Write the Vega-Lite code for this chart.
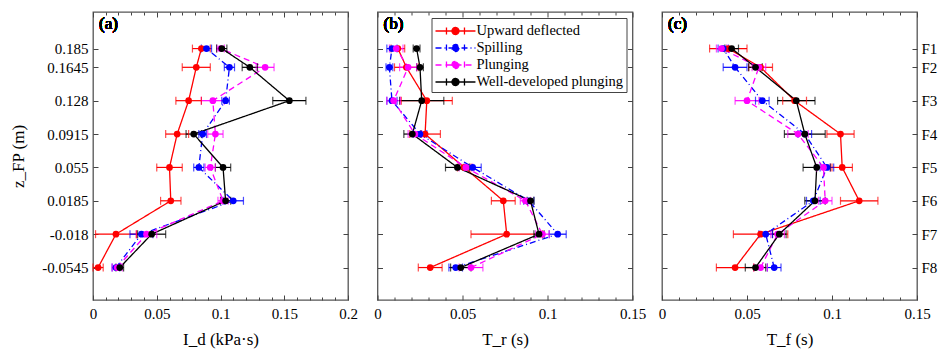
{
"$schema":"https://vega.github.io/schema/vega-lite/v6.json",
"background":"white",
"padding":{"left":9,"top":10,"right":2,"bottom":5},
"spacing":29.5,
"bounds":"flush",
"config":{"font":"Liberation Serif","view":{"stroke":"#555","strokeWidth":1.3},
"text":{"font":"Liberation Serif"},
"legend":{"labelFont":"Liberation Serif","titleFont":"Liberation Serif"},
"axis":{"labelFont":"Liberation Serif","titleFont":"Liberation Serif","domain":false,"grid":false,"labelFontSize":15,"titleFontSize":17,"titleFontWeight":"normal","labelColor":"black","titleColor":"black","tickColor":"#444","tickWidth":1,"labelFlush":false,"labelOverlap":false,"labelBound":false}},
"datasets":{"d":[
{"panel":"a","series":"Upward deflected","z":0.185,"v":0.085,"lo":0.078,"hi":0.092},
{"panel":"a","series":"Upward deflected","z":0.1645,"v":0.081,"lo":0.070,"hi":0.092},
{"panel":"a","series":"Upward deflected","z":0.128,"v":0.075,"lo":0.065,"hi":0.085},
{"panel":"a","series":"Upward deflected","z":0.0915,"v":0.066,"lo":0.057,"hi":0.075},
{"panel":"a","series":"Upward deflected","z":0.055,"v":0.060,"lo":0.050,"hi":0.070},
{"panel":"a","series":"Upward deflected","z":0.0185,"v":0.061,"lo":0.053,"hi":0.069},
{"panel":"a","series":"Upward deflected","z":-0.018,"v":0.018,"lo":0.002,"hi":0.034},
{"panel":"a","series":"Upward deflected","z":-0.0545,"v":0.004,"lo":0.000,"hi":0.008},
{"panel":"a","series":"Spilling","z":0.185,"v":0.089,"lo":0.085,"hi":0.093},
{"panel":"a","series":"Spilling","z":0.1645,"v":0.107,"lo":0.103,"hi":0.111},
{"panel":"a","series":"Spilling","z":0.128,"v":0.104,"lo":0.101,"hi":0.107},
{"panel":"a","series":"Spilling","z":0.0915,"v":0.086,"lo":0.083,"hi":0.089},
{"panel":"a","series":"Spilling","z":0.055,"v":0.083,"lo":0.079,"hi":0.087},
{"panel":"a","series":"Spilling","z":0.0185,"v":0.110,"lo":0.102,"hi":0.118},
{"panel":"a","series":"Spilling","z":-0.018,"v":0.038,"lo":0.029,"hi":0.047},
{"panel":"a","series":"Spilling","z":-0.0545,"v":0.018,"lo":0.015,"hi":0.021},
{"panel":"a","series":"Plunging","z":0.185,"v":0.100,"lo":0.097,"hi":0.103},
{"panel":"a","series":"Plunging","z":0.1645,"v":0.135,"lo":0.128,"hi":0.142},
{"panel":"a","series":"Plunging","z":0.128,"v":0.094,"lo":0.085,"hi":0.103},
{"panel":"a","series":"Plunging","z":0.0915,"v":0.096,"lo":0.090,"hi":0.102},
{"panel":"a","series":"Plunging","z":0.055,"v":0.092,"lo":0.088,"hi":0.096},
{"panel":"a","series":"Plunging","z":0.0185,"v":0.102,"lo":0.098,"hi":0.106},
{"panel":"a","series":"Plunging","z":-0.018,"v":0.042,"lo":0.034,"hi":0.050},
{"panel":"a","series":"Plunging","z":-0.0545,"v":0.019,"lo":0.015,"hi":0.023},
{"panel":"a","series":"Well-developed plunging","z":0.185,"v":0.101,"lo":0.097,"hi":0.105},
{"panel":"a","series":"Well-developed plunging","z":0.1645,"v":0.123,"lo":0.117,"hi":0.129},
{"panel":"a","series":"Well-developed plunging","z":0.128,"v":0.154,"lo":0.141,"hi":0.167},
{"panel":"a","series":"Well-developed plunging","z":0.0915,"v":0.079,"lo":0.073,"hi":0.085},
{"panel":"a","series":"Well-developed plunging","z":0.055,"v":0.102,"lo":0.096,"hi":0.108},
{"panel":"a","series":"Well-developed plunging","z":0.0185,"v":0.104,"lo":0.100,"hi":0.108},
{"panel":"a","series":"Well-developed plunging","z":-0.018,"v":0.046,"lo":0.035,"hi":0.057},
{"panel":"a","series":"Well-developed plunging","z":-0.0545,"v":0.021,"lo":0.018,"hi":0.024},
{"panel":"b","series":"Upward deflected","z":0.185,"v":0.012,"lo":0.008,"hi":0.016},
{"panel":"b","series":"Upward deflected","z":0.1645,"v":0.017,"lo":0.010,"hi":0.024},
{"panel":"b","series":"Upward deflected","z":0.128,"v":0.029,"lo":0.014,"hi":0.044},
{"panel":"b","series":"Upward deflected","z":0.0915,"v":0.028,"lo":0.019,"hi":0.037},
{"panel":"b","series":"Upward deflected","z":0.055,"v":0.051,"lo":0.047,"hi":0.055},
{"panel":"b","series":"Upward deflected","z":0.0185,"v":0.074,"lo":0.067,"hi":0.081},
{"panel":"b","series":"Upward deflected","z":-0.018,"v":0.076,"lo":0.055,"hi":0.097},
{"panel":"b","series":"Upward deflected","z":-0.0545,"v":0.031,"lo":0.024,"hi":0.038},
{"panel":"b","series":"Spilling","z":0.185,"v":0.0085,"lo":0.0055,"hi":0.0115},
{"panel":"b","series":"Spilling","z":0.1645,"v":0.007,"lo":0.005,"hi":0.009},
{"panel":"b","series":"Spilling","z":0.128,"v":0.0085,"lo":0.0055,"hi":0.0115},
{"panel":"b","series":"Spilling","z":0.0915,"v":0.025,"lo":0.021,"hi":0.029},
{"panel":"b","series":"Spilling","z":0.055,"v":0.056,"lo":0.051,"hi":0.061},
{"panel":"b","series":"Spilling","z":0.0185,"v":0.089,"lo":0.086,"hi":0.092},
{"panel":"b","series":"Spilling","z":-0.018,"v":0.106,"lo":0.101,"hi":0.111},
{"panel":"b","series":"Spilling","z":-0.0545,"v":0.046,"lo":0.042,"hi":0.050},
{"panel":"b","series":"Plunging","z":0.185,"v":0.011,"lo":0.007,"hi":0.015},
{"panel":"b","series":"Plunging","z":0.1645,"v":0.018,"lo":0.013,"hi":0.023},
{"panel":"b","series":"Plunging","z":0.128,"v":0.0095,"lo":0.0055,"hi":0.0135},
{"panel":"b","series":"Plunging","z":0.0915,"v":0.022,"lo":0.018,"hi":0.026},
{"panel":"b","series":"Plunging","z":0.055,"v":0.052,"lo":0.048,"hi":0.056},
{"panel":"b","series":"Plunging","z":0.0185,"v":0.087,"lo":0.084,"hi":0.090},
{"panel":"b","series":"Plunging","z":-0.018,"v":0.097,"lo":0.093,"hi":0.101},
{"panel":"b","series":"Plunging","z":-0.0545,"v":0.055,"lo":0.048,"hi":0.062},
{"panel":"b","series":"Well-developed plunging","z":0.185,"v":0.023,"lo":0.021,"hi":0.025},
{"panel":"b","series":"Well-developed plunging","z":0.1645,"v":0.025,"lo":0.023,"hi":0.027},
{"panel":"b","series":"Well-developed plunging","z":0.128,"v":0.026,"lo":0.013,"hi":0.039},
{"panel":"b","series":"Well-developed plunging","z":0.0915,"v":0.0205,"lo":0.0155,"hi":0.0255},
{"panel":"b","series":"Well-developed plunging","z":0.055,"v":0.047,"lo":0.040,"hi":0.054},
{"panel":"b","series":"Well-developed plunging","z":0.0185,"v":0.090,"lo":0.088,"hi":0.092},
{"panel":"b","series":"Well-developed plunging","z":-0.018,"v":0.095,"lo":0.092,"hi":0.098},
{"panel":"b","series":"Well-developed plunging","z":-0.0545,"v":0.049,"lo":0.043,"hi":0.055},
{"panel":"c","series":"Upward deflected","z":0.185,"v":0.039,"lo":0.028,"hi":0.050},
{"panel":"c","series":"Upward deflected","z":0.1645,"v":0.058,"lo":0.051,"hi":0.065},
{"panel":"c","series":"Upward deflected","z":0.128,"v":0.078,"lo":0.071,"hi":0.085},
{"panel":"c","series":"Upward deflected","z":0.0915,"v":0.105,"lo":0.097,"hi":0.113},
{"panel":"c","series":"Upward deflected","z":0.055,"v":0.106,"lo":0.100,"hi":0.112},
{"panel":"c","series":"Upward deflected","z":0.0185,"v":0.116,"lo":0.105,"hi":0.127},
{"panel":"c","series":"Upward deflected","z":-0.018,"v":0.058,"lo":0.042,"hi":0.074},
{"panel":"c","series":"Upward deflected","z":-0.0545,"v":0.043,"lo":0.032,"hi":0.054},
{"panel":"c","series":"Spilling","z":0.185,"v":0.036,"lo":0.033,"hi":0.039},
{"panel":"c","series":"Spilling","z":0.1645,"v":0.043,"lo":0.036,"hi":0.050},
{"panel":"c","series":"Spilling","z":0.128,"v":0.059,"lo":0.055,"hi":0.063},
{"panel":"c","series":"Spilling","z":0.0915,"v":0.084,"lo":0.080,"hi":0.088},
{"panel":"c","series":"Spilling","z":0.055,"v":0.097,"lo":0.093,"hi":0.101},
{"panel":"c","series":"Spilling","z":0.0185,"v":0.089,"lo":0.085,"hi":0.093},
{"panel":"c","series":"Spilling","z":-0.018,"v":0.061,"lo":0.057,"hi":0.065},
{"panel":"c","series":"Spilling","z":-0.0545,"v":0.066,"lo":0.062,"hi":0.070},
{"panel":"c","series":"Plunging","z":0.185,"v":0.035,"lo":0.032,"hi":0.038},
{"panel":"c","series":"Plunging","z":0.1645,"v":0.057,"lo":0.053,"hi":0.061},
{"panel":"c","series":"Plunging","z":0.128,"v":0.050,"lo":0.043,"hi":0.057},
{"panel":"c","series":"Plunging","z":0.0915,"v":0.080,"lo":0.074,"hi":0.086},
{"panel":"c","series":"Plunging","z":0.055,"v":0.095,"lo":0.091,"hi":0.099},
{"panel":"c","series":"Plunging","z":0.0185,"v":0.096,"lo":0.092,"hi":0.100},
{"panel":"c","series":"Plunging","z":-0.018,"v":0.068,"lo":0.064,"hi":0.072},
{"panel":"c","series":"Plunging","z":-0.0545,"v":0.058,"lo":0.054,"hi":0.062},
{"panel":"c","series":"Well-developed plunging","z":0.185,"v":0.041,"lo":0.037,"hi":0.045},
{"panel":"c","series":"Well-developed plunging","z":0.1645,"v":0.055,"lo":0.051,"hi":0.059},
{"panel":"c","series":"Well-developed plunging","z":0.128,"v":0.079,"lo":0.068,"hi":0.090},
{"panel":"c","series":"Well-developed plunging","z":0.0915,"v":0.084,"lo":0.072,"hi":0.096},
{"panel":"c","series":"Well-developed plunging","z":0.055,"v":0.091,"lo":0.083,"hi":0.099},
{"panel":"c","series":"Well-developed plunging","z":0.0185,"v":0.090,"lo":0.084,"hi":0.096},
{"panel":"c","series":"Well-developed plunging","z":-0.018,"v":0.069,"lo":0.065,"hi":0.073},
{"panel":"c","series":"Well-developed plunging","z":-0.0545,"v":0.055,"lo":0.049,"hi":0.061}
]},
"data":{"name":"d"},
"resolve":{"scale":{"color":"shared","strokeDash":"shared"},"legend":{"color":"independent","strokeDash":"independent"}},
"hconcat":[
{"width":255,"height":288,
"transform":[{"filter":"datum.panel=='a'"}],
"resolve":{"axis":{"x":"independent","y":"independent"}},
"layer":[
{"mark":{"type":"line","strokeWidth":1.3},
"encoding":{
"x":{"field":"v","type":"quantitative","scale":{"domain":[0,0.2],"nice":false,"zero":false},
"axis":{"orient":"bottom","title":"I_d (kPa·s)","labelFont":"Liberation Serif","titleFont":"Liberation Serif","labelFontSize":15,"titleFontSize":17,"titleFontWeight":"normal","titlePadding":8,"values":[0,0.01,0.02,0.03,0.04,0.05,0.06,0.07,0.08,0.09,0.1,0.11,0.12,0.13,0.14,0.15,0.16,0.17,0.18,0.19,0.2],"labelExpr":"abs(datum.value*20-round(datum.value*20))<0.001 ? format(datum.value,'.2~f') : ''","labelPadding":11,"tickSize":{"condition":{"test":"abs(datum.value*20-round(datum.value*20))<0.001","value":-5},"value":-3}}},
"y":{"field":"z","type":"quantitative","scale":{"domain":[-0.09,0.225],"nice":false,"zero":false},
"axis":{"orient":"left","title":"z_FP (m)","labelFont":"Liberation Serif","titleFont":"Liberation Serif","labelFontSize":15,"titleFontSize":17,"titleFontWeight":"normal","titlePadding":14,"values":[0.185,0.1645,0.128,0.0915,0.055,0.0185,-0.018,-0.0545],"format":".4~f","labelExpr":"replace(datum.label,'\u2212','-')","labelPadding":10,"tickSize":-5}},
"color":{"field":"series","type":"nominal","scale":{"domain":["Upward deflected","Spilling","Plunging","Well-developed plunging"],"range":["#ff0000","#0000ff","#ff00ff","#000000"]},"legend":null},
"strokeDash":{"field":"series","type":"nominal","scale":{"domain":["Upward deflected","Spilling","Plunging","Well-developed plunging"],"range":[[1,0],[6,3,1,3],[6,4],[1,0]]},"legend":null},
"order":{"field":"z","type":"quantitative"}}},
{"mark":{"type":"rule","strokeWidth":1.2},
"encoding":{"x":{"field":"lo","type":"quantitative","axis":null},"x2":{"field":"hi"},"y":{"field":"z","type":"quantitative","axis":null},"color":{"field":"series","type":"nominal","legend":null}}},
{"mark":{"type":"tick","orient":"vertical","size":8,"thickness":1.2},
"encoding":{"x":{"field":"lo","type":"quantitative","axis":null},"y":{"field":"z","type":"quantitative","axis":null},"color":{"field":"series","type":"nominal","legend":null}}},
{"mark":{"type":"tick","orient":"vertical","size":8,"thickness":1.2},
"encoding":{"x":{"field":"hi","type":"quantitative","axis":null},"y":{"field":"z","type":"quantitative","axis":null},"color":{"field":"series","type":"nominal","legend":null}}},
{"mark":{"type":"point","filled":true,"size":45,"opacity":1},
"encoding":{
"x":{"field":"v","type":"quantitative","axis":{"orient":"top","title":null,"labels":false,"values":[0,0.01,0.02,0.03,0.04,0.05,0.06,0.07,0.08,0.09,0.1,0.11,0.12,0.13,0.14,0.15,0.16,0.17,0.18,0.19,0.2],"tickSize":{"condition":{"test":"abs(datum.value*20-round(datum.value*20))<0.001","value":-5},"value":-3}}},
"y":{"field":"z","type":"quantitative","axis":{"orient":"right","title":null,"labels":false,"values":[0.185,0.1645,0.128,0.0915,0.055,0.0185,-0.018,-0.0545],"tickSize":-5}},
"color":{"field":"series","type":"nominal","legend":null}}},
{"mark":{"type":"text","align":"left","baseline":"top","dx":6,"dy":4,"fontSize":17,"font":"Liberation Serif","fontWeight":"normal","text":"(a)"},
"encoding":{"x":{"datum":0,"type":"quantitative","axis":null},"y":{"datum":0.225,"type":"quantitative","axis":null}}}
]},
{"width":255,"height":288,
"transform":[{"filter":"datum.panel=='b'"}],
"resolve":{"axis":{"x":"independent","y":"independent"}},
"layer":[
{"mark":{"type":"line","strokeWidth":1.3},
"encoding":{
"x":{"field":"v","type":"quantitative","scale":{"domain":[0,0.15],"nice":false,"zero":false},
"axis":{"orient":"bottom","title":"T_r (s)","labelFont":"Liberation Serif","titleFont":"Liberation Serif","labelFontSize":15,"titleFontSize":17,"titleFontWeight":"normal","titlePadding":8,"values":[0,0.01,0.02,0.03,0.04,0.05,0.06,0.07,0.08,0.09,0.1,0.11,0.12,0.13,0.14,0.15],"labelExpr":"abs(datum.value*20-round(datum.value*20))<0.001 ? format(datum.value,'.2~f') : ''","labelPadding":11,"tickSize":{"condition":{"test":"abs(datum.value*20-round(datum.value*20))<0.001","value":-5},"value":-3}}},
"y":{"field":"z","type":"quantitative","scale":{"domain":[-0.09,0.225],"nice":false,"zero":false},
"axis":{"orient":"left","title":null,"labels":false,"values":[0.185,0.1645,0.128,0.0915,0.055,0.0185,-0.018,-0.0545],"tickSize":-5}},
"color":{"field":"series","type":"nominal","scale":{"domain":["Upward deflected","Spilling","Plunging","Well-developed plunging"],"range":["#ff0000","#0000ff","#ff00ff","#000000"]},
"legend":{"orient":"top-right","offset":6,"title":null,"symbolType":"M-1,0H3.44M0.22,-0.39V0.39M2.22,-0.39V0.39M1.61,0A0.39,0.39,0,1,1,0.83,0A0.39,0.39,0,1,1,1.61,0","symbolSize":324,"symbolStrokeWidth":1.3,"labelFont":"Liberation Serif","labelFontSize":14.5,"labelColor":"black","strokeColor":"#444","fillColor":"white","padding":3,"rowPadding":0,"labelOffset":22,"encode":{"symbols":{"update":{"fill":{"scale":"color","field":"value"}}}}}},
"strokeDash":{"field":"series","type":"nominal","scale":{"domain":["Upward deflected","Spilling","Plunging","Well-developed plunging"],"range":[[1,0],[6,3,1,3],[6,4],[1,0]]},
"legend":{"orient":"top-right","offset":6,"title":null,"symbolType":"M-1,0H3.44M0.22,-0.39V0.39M2.22,-0.39V0.39M1.61,0A0.39,0.39,0,1,1,0.83,0A0.39,0.39,0,1,1,1.61,0","symbolSize":324,"symbolStrokeWidth":1.3,"labelFont":"Liberation Serif","labelFontSize":14.5,"labelColor":"black","strokeColor":"#444","fillColor":"white","padding":3,"rowPadding":0,"labelOffset":22}},
"order":{"field":"z","type":"quantitative"}}},
{"mark":{"type":"rule","strokeWidth":1.2},
"encoding":{"x":{"field":"lo","type":"quantitative","axis":null},"x2":{"field":"hi"},"y":{"field":"z","type":"quantitative","axis":null},"color":{"field":"series","type":"nominal","legend":null}}},
{"mark":{"type":"tick","orient":"vertical","size":8,"thickness":1.2},
"encoding":{"x":{"field":"lo","type":"quantitative","axis":null},"y":{"field":"z","type":"quantitative","axis":null},"color":{"field":"series","type":"nominal","legend":null}}},
{"mark":{"type":"tick","orient":"vertical","size":8,"thickness":1.2},
"encoding":{"x":{"field":"hi","type":"quantitative","axis":null},"y":{"field":"z","type":"quantitative","axis":null},"color":{"field":"series","type":"nominal","legend":null}}},
{"mark":{"type":"point","filled":true,"size":45,"opacity":1},
"encoding":{
"x":{"field":"v","type":"quantitative","axis":{"orient":"top","title":null,"labels":false,"values":[0,0.01,0.02,0.03,0.04,0.05,0.06,0.07,0.08,0.09,0.1,0.11,0.12,0.13,0.14,0.15],"tickSize":{"condition":{"test":"abs(datum.value*20-round(datum.value*20))<0.001","value":-5},"value":-3}}},
"y":{"field":"z","type":"quantitative","axis":{"orient":"right","title":null,"labels":false,"values":[0.185,0.1645,0.128,0.0915,0.055,0.0185,-0.018,-0.0545],"tickSize":-5}},
"color":{"field":"series","type":"nominal","legend":null}}},
{"mark":{"type":"text","align":"left","baseline":"top","dx":6,"dy":4,"fontSize":17,"font":"Liberation Serif","fontWeight":"normal","text":"(b)"},
"encoding":{"x":{"datum":0,"type":"quantitative","axis":null},"y":{"datum":0.225,"type":"quantitative","axis":null}}}
]},
{"width":255,"height":288,
"transform":[{"filter":"datum.panel=='c'"}],
"resolve":{"axis":{"x":"independent","y":"independent"}},
"layer":[
{"mark":{"type":"line","strokeWidth":1.3},
"encoding":{
"x":{"field":"v","type":"quantitative","scale":{"domain":[0,0.15],"nice":false,"zero":false},
"axis":{"orient":"bottom","title":"T_f (s)","labelFont":"Liberation Serif","titleFont":"Liberation Serif","labelFontSize":15,"titleFontSize":17,"titleFontWeight":"normal","titlePadding":8,"values":[0,0.01,0.02,0.03,0.04,0.05,0.06,0.07,0.08,0.09,0.1,0.11,0.12,0.13,0.14,0.15],"labelExpr":"abs(datum.value*20-round(datum.value*20))<0.001 ? format(datum.value,'.2~f') : ''","labelPadding":11,"tickSize":{"condition":{"test":"abs(datum.value*20-round(datum.value*20))<0.001","value":-5},"value":-3}}},
"y":{"field":"z","type":"quantitative","scale":{"domain":[-0.09,0.225],"nice":false,"zero":false},
"axis":{"orient":"left","title":null,"labels":false,"values":[0.185,0.1645,0.128,0.0915,0.055,0.0185,-0.018,-0.0545],"tickSize":-5}},
"color":{"field":"series","type":"nominal","scale":{"domain":["Upward deflected","Spilling","Plunging","Well-developed plunging"],"range":["#ff0000","#0000ff","#ff00ff","#000000"]},"legend":null},
"strokeDash":{"field":"series","type":"nominal","scale":{"domain":["Upward deflected","Spilling","Plunging","Well-developed plunging"],"range":[[1,0],[6,3,1,3],[6,4],[1,0]]},"legend":null},
"order":{"field":"z","type":"quantitative"}}},
{"mark":{"type":"rule","strokeWidth":1.2},
"encoding":{"x":{"field":"lo","type":"quantitative","axis":null},"x2":{"field":"hi"},"y":{"field":"z","type":"quantitative","axis":null},"color":{"field":"series","type":"nominal","legend":null}}},
{"mark":{"type":"tick","orient":"vertical","size":8,"thickness":1.2},
"encoding":{"x":{"field":"lo","type":"quantitative","axis":null},"y":{"field":"z","type":"quantitative","axis":null},"color":{"field":"series","type":"nominal","legend":null}}},
{"mark":{"type":"tick","orient":"vertical","size":8,"thickness":1.2},
"encoding":{"x":{"field":"hi","type":"quantitative","axis":null},"y":{"field":"z","type":"quantitative","axis":null},"color":{"field":"series","type":"nominal","legend":null}}},
{"mark":{"type":"point","filled":true,"size":45,"opacity":1},
"encoding":{
"x":{"field":"v","type":"quantitative","axis":{"orient":"top","title":null,"labels":false,"values":[0,0.01,0.02,0.03,0.04,0.05,0.06,0.07,0.08,0.09,0.1,0.11,0.12,0.13,0.14,0.15],"tickSize":{"condition":{"test":"abs(datum.value*20-round(datum.value*20))<0.001","value":-5},"value":-3}}},
"y":{"field":"z","type":"quantitative","axis":{"orient":"right","title":null,"labelFont":"Liberation Serif","labelFontSize":15,"values":[0.185,0.1645,0.128,0.0915,0.055,0.0185,-0.018,-0.0545],"labelExpr":"datum.value > 0.18 ? 'F1' : datum.value > 0.16 ? 'F2' : datum.value > 0.12 ? 'F3' : datum.value > 0.09 ? 'F4' : datum.value > 0.05 ? 'F5' : datum.value > 0.01 ? 'F6' : datum.value > -0.03 ? 'F7' : 'F8'","labelPadding":9,"tickSize":-5}},
"color":{"field":"series","type":"nominal","legend":null}}},
{"mark":{"type":"text","align":"left","baseline":"top","dx":6,"dy":4,"fontSize":17,"font":"Liberation Serif","fontWeight":"normal","text":"(c)"},
"encoding":{"x":{"datum":0,"type":"quantitative","axis":null},"y":{"datum":0.225,"type":"quantitative","axis":null}}}
]}
]
}
